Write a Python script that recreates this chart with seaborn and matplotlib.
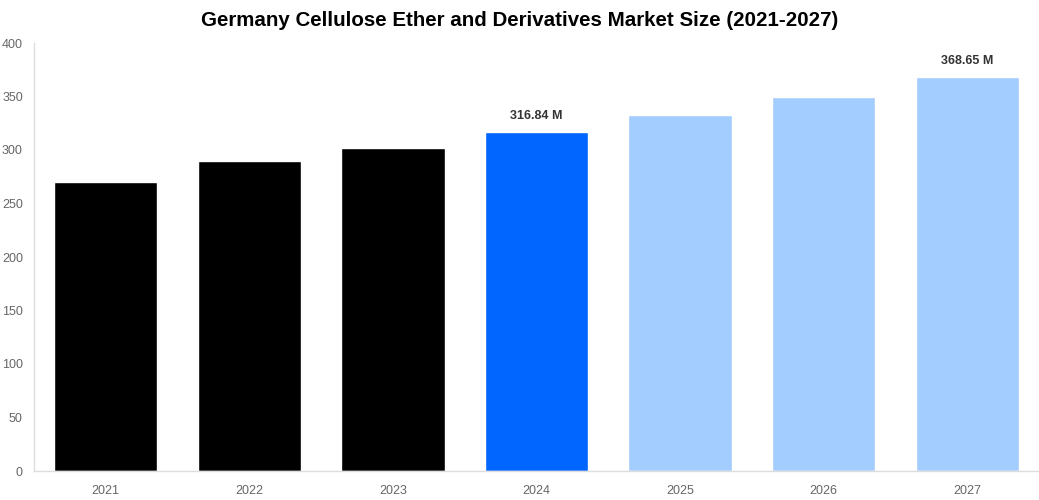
import pandas as pd
import seaborn as sns
import matplotlib.pyplot as plt

# data
years = ['2021', '2022', '2023', '2024', '2025', '2026', '2027']
sizes = [270.0, 289.5, 301.8, 316.84, 332.6, 349.5, 368.65]
colors = ['#000000', '#000000', '#000000', '#0066ff', '#a3cdff', '#a3cdff', '#a3cdff']
labels = {3: '316.84 M', 6: '368.65 M'}

df = pd.DataFrame({'Year': years, 'Size': sizes})

sns.set_style('white')
plt.rcParams['font.family'] = ['Liberation Sans', 'DejaVu Sans']

fig = plt.figure(figsize=(10.39, 5), dpi=100)
ax = fig.add_axes([34 / 1039, 29 / 500, 1005 / 1039, 428 / 500])

sns.barplot(x='Year', y='Size', data=df, hue='Year', palette=colors,
            legend=False, width=0.72, saturation=1, ax=ax)

for i, txt in labels.items():
    ax.text(i, sizes[i] + 9, txt, ha='center', va='bottom',
            fontsize=9, fontweight='bold', color='#333333')

ax.set_xlim(-0.5, 6.5)
ax.set_ylim(0, 400)
ax.set_yticks(range(0, 401, 50))
ax.set_xlabel('')
ax.set_ylabel('')
ax.tick_params(axis='both', labelsize=9, colors='#666666', length=0)
ax.tick_params(axis='x', pad=10)
ax.tick_params(axis='y', pad=8)
for s in ['top', 'right']:
    ax.spines[s].set_visible(False)
for s in ['left', 'bottom']:
    ax.spines[s].set_color('#dddddd')
    ax.spines[s].set_linewidth(1)

fig.suptitle('Germany Cellulose Ether and Derivatives Market Size (2021-2027)',
             x=0.5, y=1 - 21 / 500, va='center', fontsize=14.8, fontweight='bold',
             color='#000000')

fig.savefig('out.png', dpi=100)
